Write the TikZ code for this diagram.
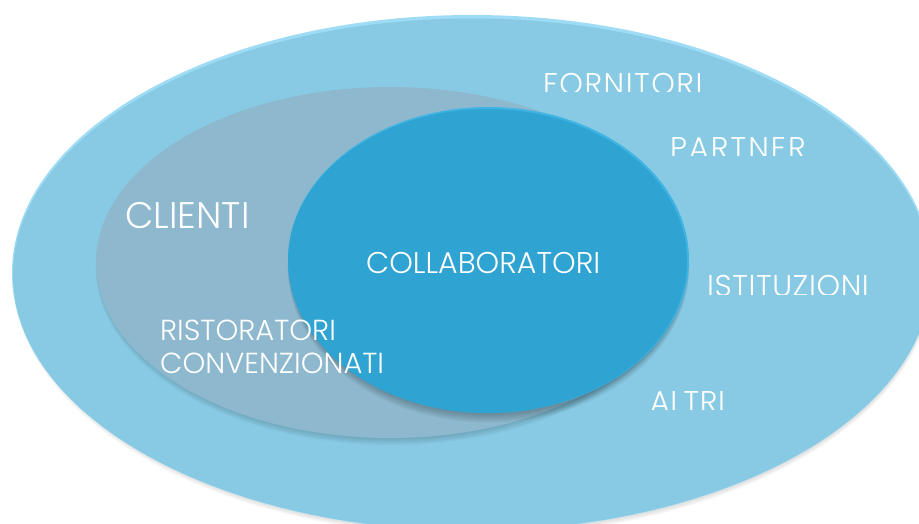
\documentclass[tikz,border=0pt]{standalone}
\usepackage{fontspec}
\newfontfamily\lbl{Poppins Light}
\newfontfamily\lblfive{Poppins Light}[LetterSpace=5]
\newfontfamily\lblseven{Poppins Light}[LetterSpace=7]
\newfontfamily\lbltwo{Poppins Light}[LetterSpace=2]
\definecolor{outerblue}{RGB}{136,202,228}
\definecolor{outerrim}{RGB}{158,220,245}
\definecolor{clientgray}{RGB}{141,184,206}
\definecolor{innerblue}{RGB}{47,163,209}
\definecolor{innerrim}{RGB}{62,180,228}
\tikzset{
  lab/.style={anchor=base west, inner sep=0pt, text=white, font=\lbl\fontsize{30}{32}\selectfont},
  biglab/.style={lab, font=\lbl\fontsize{37}{40}\selectfont},
  softshadow/.style={fill=black, opacity=0.03}
}
\begin{document}
\begin{tikzpicture}[x=1pt,y=-1pt]
\useasboundingbox (0,0) rectangle (919,523);
\clip (0,0) rectangle (919,523);
% outer ellipse with soft shadow
\foreach \i in {1,...,4}{
  \fill[softshadow] (473,{274+\i*0.8}) ellipse ({458+\i*0.5} and {257+\i*0.5});
}
\fill[outerrim] (472,273) ellipse (460 and 258);
\fill[outerblue] (472,274.5) ellipse (459 and 256);
% clients ellipse
\foreach \i in {1,...,5}{
  \fill[softshadow] (391,{262.5+\i*0.9}) ellipse ({293+\i*0.5} and {175.5+\i*0.5});
}
\fill[clientgray] (390,262.5) ellipse (294 and 175.5);
% collaborators ellipse
\foreach \i in {1,...,6}{
  \fill[softshadow, opacity=0.045] (488.5,{260+\i*1.1}) ellipse ({199+\i*0.3} and {153+\i*0.5});
}
\fill[innerrim] (488.5,260) ellipse (200.5 and 153);
\fill[innerblue] (487.5,261) ellipse (199.5 and 152);
% labels
\node[biglab] (clienti) at (125,228) {CLIENTI};
\node[lab] (collab) at (366,273) {COLLABORATORI};
\node[lab, font=\lbl\fontsize{29}{31}\selectfont] (ristor) at (160,340) {RISTORATORI};
\node[lab, font=\lbl\fontsize{29}{31}\selectfont] (conv) at (160,373) {CONVENZIONATI};
\begin{scope}
  \clip (530,60) rectangle (730,91.5);
  \node[lab, font=\lblfive\fontsize{30}{32}\selectfont] (forn) at (543,94) {FORNITORI};
\end{scope}
\begin{scope}
  \clip (660,125) rectangle (830,155.5);
  \node[lab, font=\lblseven\fontsize{30}{32}\selectfont] (partner) at (670,158.5) {PARTNER};
\end{scope}
\begin{scope}
  \clip (700,262) rectangle (890,294);
  \node[lab, font=\lbltwo\fontsize{30}{32}\selectfont] (istit) at (707,296.5) {ISTITUZIONI};
\end{scope}
\begin{scope}
  \clip (640,380) rectangle (740,409.5);
  \node[lab, font=\lbltwo\fontsize{30}{32}\selectfont] (altri) at (650,412) {ALTRI};
\end{scope}
\end{tikzpicture}
\end{document}
